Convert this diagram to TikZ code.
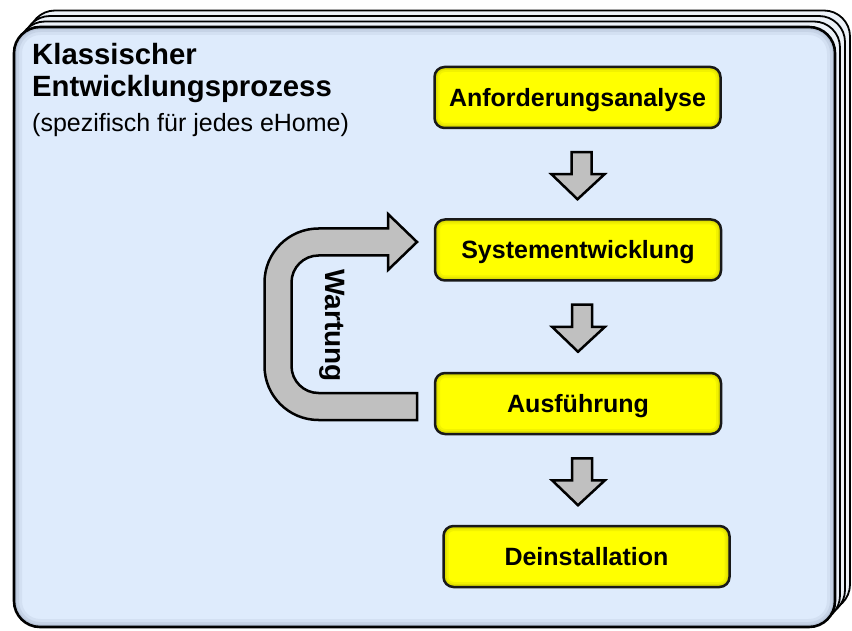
\documentclass[tikz,border=0pt]{standalone}
\usepackage{fontspec}
\setmainfont{Liberation Sans}
\usetikzlibrary{calc}

\definecolor{cardfill}{RGB}{222,235,252}
\definecolor{backfill}{RGB}{236,241,248}
\definecolor{rim}{RGB}{120,135,160}
\definecolor{boxyellow}{RGB}{255,255,0}
\definecolor{bevel}{RGB}{150,150,0}
\definecolor{arrowgray}{RGB}{192,192,192}

\tikzset{
  backcard/.style={rounded corners=26pt, line width=1.8pt, draw=black, fill=backfill},
  stepbox/.style={draw=black!90, line width=2.5pt, fill=boxyellow,
    rounded corners=10pt, minimum width=286pt, minimum height=61pt,
    inner sep=0pt, text height=18pt, text depth=0pt,
    font=\bfseries\fontsize{25}{30}\selectfont,
    path picture={
      \foreach \w/\o in {10/0.12,6/0.18,3/0.25}{
        \draw[line width=\w pt, draw=bevel, opacity=\o, rounded corners=10pt]
          (path picture bounding box.north west) rectangle
          (path picture bounding box.south east);}
    }},
  blockarrow/.style={fill=arrowgray, draw=black, line width=2.5pt, line join=miter},
  downarrow/.pic={
    \draw[blockarrow] (-6,0) -- (14,0) -- (14,22) -- (27,22) -- (0,47)
      -- (-26,22) -- (-6,22) -- cycle;
  },
  titlebold/.style={anchor=base west, inner sep=0pt, font=\bfseries\fontsize{29.3}{34}\selectfont},
  subtitle/.style={anchor=base west, inner sep=0pt, font=\fontsize{25}{30}\selectfont},
}

\begin{document}
\begin{tikzpicture}[x=1pt,y=-1pt]
\useasboundingbox (0,0) rectangle (852,631);

% stacked cards behind the front one
\foreach \k in {3,2,1}{
  \draw[backcard] (14+5*\k, 27-5.5*\k) rectangle (835+5*\k, 627-5.5*\k);
}

% front card with a soft inner rim
\begin{scope}
  \clip[rounded corners=26pt] (14,27) rectangle (835,627);
  \fill[cardfill] (14,27) rectangle (835,627);
  \foreach \w/\o in {16/0.10,10/0.14,5/0.2}{
    \draw[rim, line width=\w pt, opacity=\o, rounded corners=26pt]
      (14,27) rectangle (835,627);
  }
\end{scope}
\draw[black, line width=2.6pt, rounded corners=26pt] (14,27) rectangle (835,627);

% heading
\node[titlebold] (t1) at (32,65) {Klassischer};
\node[titlebold] (t2) at (32,97) {Entwicklungsprozess};
\node[subtitle] (t3) at (32,132) {(spezifisch für jedes eHome)};

% process steps
\node[stepbox] (a1) at (577.5,97.5) {Anforderungsanalyse};
\node[stepbox] (a2) at (578,250) {Systementwicklung};
\node[stepbox] (a3) at (578,403.5) {Ausführung};
\node[stepbox] (a4) at (586.5,556.5) {Deinstallation};

% block arrows between the steps
\path (a1.south) ++(0,23) pic {downarrow};
\path (a2.south) ++(0,23) pic {downarrow};
\path (a3.south) ++(0,23) pic {downarrow};

% maintenance loop from execution back to development
\draw[blockarrow]
  (417,393) -- (318.5,393)
  arc[start angle=90, end angle=180, radius=27]
  -- (291.5,282.5)
  arc[start angle=180, end angle=270, radius=27]
  -- (388,255.5) -- (388,270) -- (417,242) -- (388,214) -- (388,228.5)
  -- (318.5,228.5)
  arc[start angle=270, end angle=180, radius=54]
  -- (264.5,366)
  arc[start angle=180, end angle=90, radius=54]
  -- (417,420) -- cycle;
\node[rotate=-90, anchor=base, inner sep=0pt,
  font=\bfseries\fontsize{28}{32}\selectfont] (w) at (325,325.5) {Wartung};

\end{tikzpicture}
\end{document}
